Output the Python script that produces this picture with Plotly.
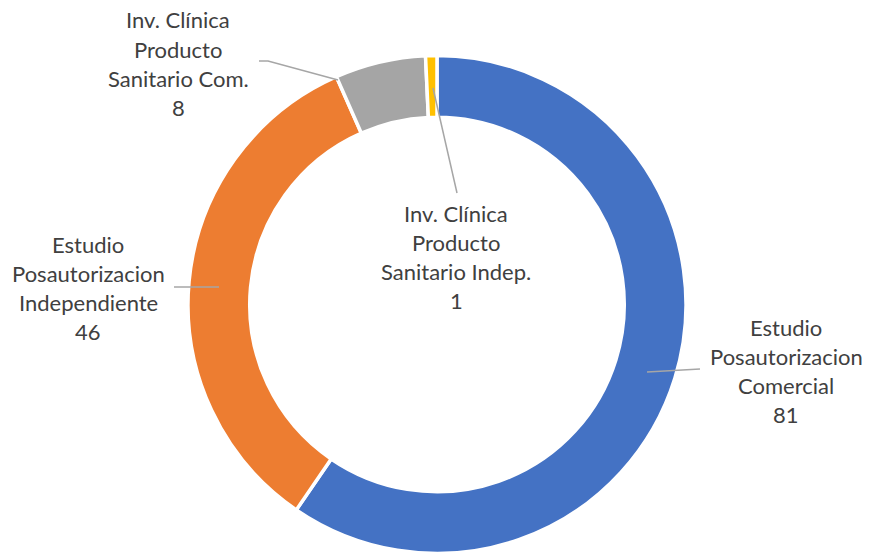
import plotly.graph_objects as go

categories = [
    "Estudio Posautorizacion Comercial",
    "Estudio Posautorizacion Independiente",
    "Inv. Clínica Producto Sanitario Com.",
    "Inv. Clínica Producto Sanitario Indep.",
]
values = [81, 46, 8, 1]
colors = ["#4472C4", "#ED7D31", "#A5A5A5", "#FFC000"]
label_lines = [
    ["Estudio", "Posautorizacion", "Comercial"],
    ["Estudio", "Posautorizacion", "Independiente"],
    ["Inv. Clínica", "Producto", "Sanitario Com."],
    ["Inv. Clínica", "Producto", "Sanitario Indep."],
]

W, H = 871, 554
# label block placement (pixels): center x, first-line y
label_pos = [(786, 327), (88, 244), (178, 20), (456, 213)]
# leader lines (pixels)
leaders = [
    [(647, 372), (700, 369)],
    [(174, 287), (219, 287)],
    [(259, 61), (268, 61), (338, 80)],
    [(433, 88), (457, 193)],
]
LINE_GAP = 29.3
FONT = dict(family="Lato, 'Open Sans', sans-serif", size=22, color="#404040")

fig = go.Figure(go.Pie(
    labels=categories, values=values, sort=False, direction="clockwise",
    rotation=0, hole=0.752, textinfo="none", hoverinfo="label+value",
    marker=dict(colors=colors, line=dict(color="white", width=3.5)),
    domain=dict(x=[188 / W, 686 / W], y=[0, 1 - 55 / H]),
    showlegend=False,
))

annotations = []
for lines, v, (cx, y0) in zip(label_lines, values, label_pos):
    for i, t in enumerate(lines + [str(v)]):
        y = y0 + i * LINE_GAP
        annotations.append(dict(
            x=cx / W, y=1 - y / H, xref="paper", yref="paper", text=t,
            showarrow=False, xanchor="center", yanchor="middle", font=FONT,
        ))

shapes = []
for pts in leaders:
    path = "M " + " L ".join(f"{x / W},{1 - y / H}" for x, y in pts)
    shapes.append(dict(type="path", path=path, xref="paper", yref="paper",
                       line=dict(color="#A6A6A6", width=1.5)))

fig.update_layout(
    width=W, height=H, margin=dict(l=0, r=0, t=0, b=0),
    paper_bgcolor="white", plot_bgcolor="white",
    annotations=annotations, shapes=shapes,
)
fig.write_html("out.html", config={"displayModeBar": False})

# remove default page margin so the figure fills the window
with open("out.html", encoding="utf-8") as f:
    html = f.read()
html = html.replace("<head>", "<head><style>html,body{margin:0;padding:0;overflow:hidden;}</style>", 1)
with open("out.html", "w", encoding="utf-8") as f:
    f.write(html)
